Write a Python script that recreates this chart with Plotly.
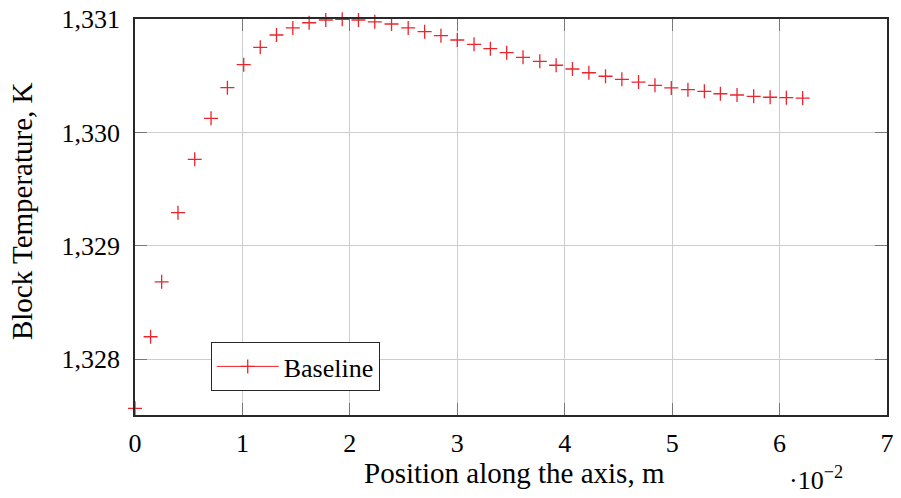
import plotly.graph_objects as go

# Data (x in units of 1e-2 m)
position = [0, 0.145, 0.248, 0.40, 0.556, 0.708, 0.86, 1.012, 1.166, 1.317,
            1.469, 1.621, 1.776, 1.929, 2.08, 2.232, 2.388, 2.543, 2.696, 2.848,
            3.0, 3.156, 3.308, 3.46, 3.612, 3.768, 3.92, 4.072, 4.225, 4.38,
            4.532, 4.687, 4.84, 4.992, 5.147, 5.30, 5.449, 5.604, 5.759, 5.912,
            6.063, 6.215]
temperature = [1327.567, 1328.198, 1328.682, 1329.292, 1329.763, 1330.124, 1330.394, 1330.597, 1330.75, 1330.859,
               1330.921, 1330.967, 1330.991, 1330.997, 1330.991, 1330.975, 1330.956, 1330.921, 1330.888, 1330.853,
               1330.815, 1330.777, 1330.738, 1330.703, 1330.662, 1330.627, 1330.592, 1330.559, 1330.526, 1330.495,
               1330.468, 1330.444, 1330.415, 1330.392, 1330.377, 1330.362, 1330.341, 1330.33, 1330.318, 1330.31,
               1330.306, 1330.303]
x_ticks = [0, 1, 2, 3, 4, 5, 6, 7]
y_ticks = [1328, 1329, 1330, 1331]
series_name = "Baseline"

RED = "rgb(236,36,44)"
FONT = "Liberation Serif"

fig = go.Figure()
fig.add_trace(go.Scatter(
    x=position, y=temperature, mode="markers", showlegend=False,
    cliponaxis=False,
    marker=dict(symbol="cross-thin", size=10, line=dict(color=RED, width=1.3)),
))
# legend entry (line + marker) like pgfplots
fig.add_trace(go.Scatter(
    x=[None], y=[None], mode="lines+markers", name=series_name,
    line=dict(color=RED, width=1),
    marker=dict(symbol="cross-thin", size=10, line=dict(color=RED, width=1.3)),
))

axis_common = dict(
    showgrid=True, gridcolor="rgb(205,205,205)", gridwidth=1,
    showline=True, linecolor="rgb(40,40,40)", linewidth=1.5, mirror="allticks",
    ticks="inside", ticklen=12, tickcolor="rgb(120,120,120)", tickwidth=1,
    zeroline=False, automargin=False, ticklabeloverflow="allow",
    tickfont=dict(family=FONT, size=26, color="black"),
)

# The page body has an 8px default margin, so margins are offset to compensate.
fig.update_layout(
    width=901, height=498,
    margin=dict(l=127, r=22, t=11, b=91),
    paper_bgcolor="white", plot_bgcolor="white",
    font=dict(family=FONT, size=26, color="black"),
    xaxis=dict(range=[0, 7], tickvals=x_ticks, ticklabelstandoff=4, **axis_common),
    yaxis=dict(range=[1327.508, 1331], tickvals=y_ticks, tickformat=",d",
               ticklabelstandoff=8, **axis_common),
    legend=dict(x=0.1007, y=0.0606, xanchor="left", yanchor="bottom",
                bgcolor="white", bordercolor="rgb(40,40,40)", borderwidth=1,
                font=dict(family=FONT, size=26), itemwidth=62),
    annotations=[
        dict(text="Block Temperature, K", textangle=-90, xref="paper", yref="paper",
             x=-0.1503, y=0.515, xanchor="center", yanchor="middle", showarrow=False,
             font=dict(family=FONT, size=29)),
        dict(text="Position along the axis, m", xref="paper", yref="paper",
             x=0.505, y=(415 - 473) / 396, xanchor="center", yanchor="middle", showarrow=False,
             font=dict(family=FONT, size=29)),
        dict(text="·10<sup>−2</sup>", xref="paper", yref="paper",
             x=(816 - 135) / 752, y=(415 - 478) / 396, xanchor="center", yanchor="middle",
             showarrow=False, font=dict(family=FONT, size=26)),
    ],
)

fig.write_html("out.html")
